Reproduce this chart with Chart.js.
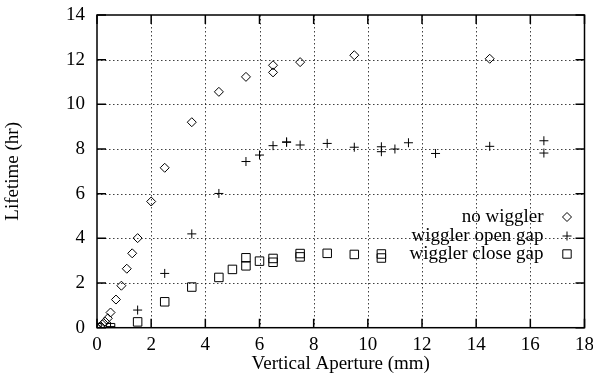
<!DOCTYPE html>
<html>
<head>
<meta charset="utf-8">
<script src="https://cdn.jsdelivr.net/npm/chart.js@4/dist/chart.umd.min.js"></script>
<style>
  html, body { margin: 0; padding: 0; background: #fff; }
  #wrap { width: 593px; height: 377px; }
</style>
</head>
<body>
<div id="wrap"><canvas id="lifetimeChart"></canvas></div>
<script>
// Lifetime vs vertical aperture

const noWigglerX = [0, 0.1, 0.2, 0.3, 0.4, 0.5, 0.7, 0.9, 1.1, 1.3, 1.5, 2.0, 2.5, 3.5, 4.5, 5.5, 6.5, 6.5, 7.5, 9.5, 14.5];
const noWigglerY = [0, 0.05, 0.15, 0.27, 0.42, 0.68, 1.26, 1.88, 2.64, 3.33, 4.01, 5.65, 7.16, 9.2, 10.56, 11.23, 11.43, 11.75, 11.89, 12.2, 12.04];

const openGapX = [0, 0.5, 1.5, 2.5, 3.5, 4.5, 5.5, 6.0, 6.5, 7.0, 7.0, 7.5, 8.5, 9.5, 10.5, 10.5, 11.0, 11.5, 12.5, 14.5, 16.5, 16.5];
const openGapY = [0, 0.05, 0.79, 2.43, 4.2, 6.01, 7.44, 7.73, 8.15, 8.32, 8.3, 8.18, 8.25, 8.08, 8.1, 7.88, 8.0, 8.28, 7.8, 8.12, 8.37, 7.82];

const closeGapX = [0, 0.5, 1.5, 2.5, 3.5, 4.5, 5.0, 5.5, 5.5, 6.0, 6.5, 6.5, 7.5, 7.5, 8.5, 9.5, 10.5, 10.5];
const closeGapY = [0, 0, 0.26, 1.16, 1.82, 2.25, 2.61, 3.13, 2.77, 2.98, 3.1, 2.93, 3.32, 3.17, 3.33, 3.28, 3.3, 3.12];

const seriesLabels = ["no wiggler", "wiggler open gap", "wiggler close gap"];
const xTitle = "Vertical Aperture (mm)";
const yTitle = "Lifetime (hr)";

const FONT = "Liberation Serif, Times New Roman, serif";
const FONT_SIZE = 19;

function toPoints(xs, ys) {
  return xs.map((x, i) => ({ x: x, y: ys[i] }));
}

// draw one marker in gnuplot style (legend only)
function drawMarker(ctx, style, x, y) {
  ctx.beginPath();
  if (style === "rectRot") {
    const r = 4.5;
    ctx.moveTo(x - r, y); ctx.lineTo(x, y - r); ctx.lineTo(x + r, y); ctx.lineTo(x, y + r); ctx.closePath();
  } else if (style === "cross") {
    const r = 4.5;
    ctx.moveTo(x - r, y); ctx.lineTo(x + r, y); ctx.moveTo(x, y - r); ctx.lineTo(x, y + r);
  } else {
    const s = 4.2;
    ctx.rect(x - s, y - s, 2 * s, 2 * s);
  }
  ctx.stroke();
}

// dotted grid, inward ticks and full frame
const framePlugin = {
  id: "frame",
  beforeDatasetsDraw(chart) {
    const { ctx, chartArea: a, scales } = chart;
    ctx.save();
    ctx.strokeStyle = "rgba(0,0,0,0.75)";
    ctx.lineWidth = 1;
    ctx.setLineDash([1.5, 2.5]);
    scales.x.ticks.forEach(t => {
      const px = Math.round(scales.x.getPixelForValue(t.value)) + 0.5;
      if (px <= a.left + 1 || px >= a.right - 1) return;
      ctx.beginPath(); ctx.moveTo(px, a.top); ctx.lineTo(px, a.bottom); ctx.stroke();
    });
    scales.y.ticks.forEach(t => {
      const py = Math.round(scales.y.getPixelForValue(t.value)) + 0.5;
      if (py <= a.top + 1 || py >= a.bottom - 1) return;
      ctx.beginPath(); ctx.moveTo(a.left, py); ctx.lineTo(a.right, py); ctx.stroke();
    });
    ctx.restore();
  },
  afterDraw(chart) {
    const { ctx, chartArea: a, scales } = chart;
    ctx.save();
    ctx.strokeStyle = "#000";
    ctx.lineWidth = 1.5;
    const tick = 9;
    scales.x.ticks.forEach(t => {
      const px = scales.x.getPixelForValue(t.value);
      ctx.beginPath();
      ctx.moveTo(px, a.bottom); ctx.lineTo(px, a.bottom - tick);
      ctx.moveTo(px, a.top); ctx.lineTo(px, a.top + tick);
      ctx.stroke();
    });
    scales.y.ticks.forEach(t => {
      const py = scales.y.getPixelForValue(t.value);
      ctx.beginPath();
      ctx.moveTo(a.left, py); ctx.lineTo(a.left + tick, py);
      ctx.moveTo(a.right, py); ctx.lineTo(a.right - tick, py);
      ctx.stroke();
    });
    ctx.strokeRect(a.left, a.top, a.right - a.left, a.bottom - a.top);

    // legend inside the plot, text right aligned, marker on the right
    ctx.lineWidth = 1;
    ctx.font = FONT_SIZE + "px " + FONT;
    ctx.fillStyle = "#000";
    ctx.textAlign = "right";
    ctx.textBaseline = "middle";
    const rows = [202, 221, 239];
    chart.data.datasets.forEach((ds, i) => {
      const y = a.top + rows[i];
      ctx.fillText(ds.label, a.right - 41, y);
      drawMarker(ctx, ds.pointStyle, a.right - 17.5, y);
    });
    ctx.restore();
  }
};

const ctx = document.getElementById("lifetimeChart").getContext("2d");
new Chart(ctx, {
  type: "scatter",
  data: {
    datasets: [
      {
        label: seriesLabels[0],
        data: toPoints(noWigglerX, noWigglerY),
        pointStyle: "rectRot",
        pointRadius: 4.5,
        pointBorderWidth: 1,
        borderColor: "#000",
        backgroundColor: "rgba(0,0,0,0)"
      },
      {
        label: seriesLabels[1],
        data: toPoints(openGapX, openGapY),
        pointStyle: "cross",
        pointRadius: 4.5,
        pointBorderWidth: 1,
        borderColor: "#000",
        backgroundColor: "rgba(0,0,0,0)"
      },
      {
        label: seriesLabels[2],
        data: toPoints(closeGapX, closeGapY),
        pointStyle: "rect",
        pointRadius: 6,
        pointBorderWidth: 1,
        borderColor: "#000",
        backgroundColor: "rgba(0,0,0,0)"
      }
    ]
  },
  options: {
    responsive: true,
    maintainAspectRatio: false,
    animation: false,
    layout: { padding: { top: 15, right: 8.5, left: 0, bottom: 0 } },
    plugins: {
      legend: { display: false },
      tooltip: { enabled: false }
    },
    scales: {
      x: {
        type: "linear",
        min: 0,
        max: 18,
        ticks: { stepSize: 2, padding: 6, color: "#000", font: { family: FONT, size: FONT_SIZE } },
        grid: { display: false, drawTicks: false },
        border: { display: false },
        title: { display: true, text: xTitle, color: "#000", font: { family: FONT, size: FONT_SIZE }, padding: { top: 0, bottom: 2 } },
        afterFit: s => { s.height = 49.3; s.paddingLeft = 0; s.paddingRight = 0; }
      },
      y: {
        type: "linear",
        min: 0,
        max: 14,
        ticks: { stepSize: 2, padding: 12, color: "#000", font: { family: FONT, size: FONT_SIZE } },
        grid: { display: false, drawTicks: false },
        border: { display: false },
        title: { display: true, text: yTitle, color: "#000", font: { family: FONT, size: FONT_SIZE }, padding: { top: 2, bottom: 0 } },
        afterFit: s => { s.width = 97; s.paddingTop = 0; s.paddingBottom = 0; }
      }
    }
  },
  plugins: [framePlugin]
});
</script>
</body>
</html>
